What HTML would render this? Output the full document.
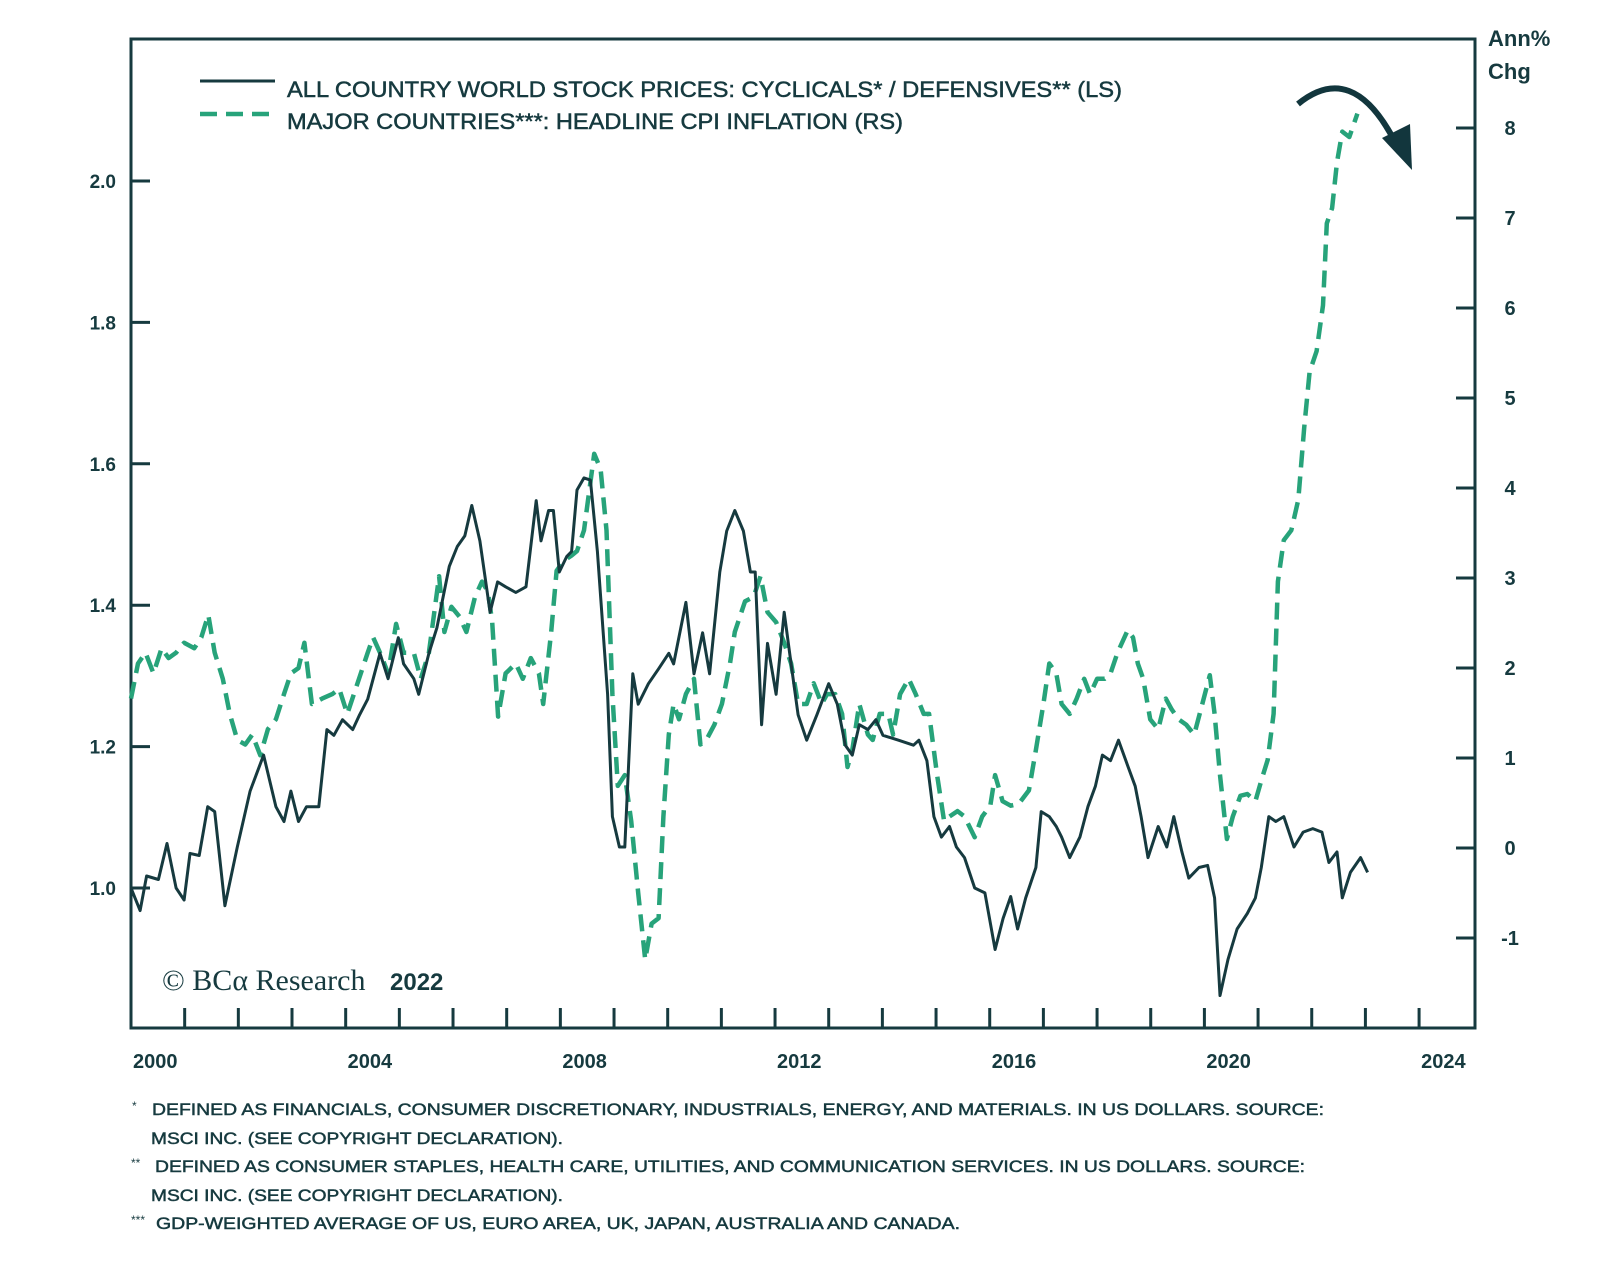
<!DOCTYPE html>
<html><head><meta charset="utf-8"><style>
html,body{margin:0;padding:0;background:#fff;}
svg{display:block;}
text{font-family:"Liberation Sans",sans-serif;fill:#163a3f;}
.semi{stroke:#163a3f;stroke-width:0.5;}
</style></head><body>
<svg id="chart" width="1600" height="1261" viewBox="0 0 1600 1261" xmlns="http://www.w3.org/2000/svg">
<rect width="1600" height="1261" fill="#fff"/>
<g id="axes"></g>
<g id="series"></g>
<g>
  <line x1="200" y1="81" x2="275" y2="81" stroke="#163a3f" stroke-width="3"/>
  <text class="semi" x="287" y="97" font-size="22" textLength="835" lengthAdjust="spacingAndGlyphs">ALL COUNTRY WORLD STOCK PRICES: CYCLICALS* / DEFENSIVES** (LS)</text>
  <line x1="200" y1="114" x2="275" y2="114" stroke="#27a37a" stroke-width="4.5" stroke-dasharray="17,9"/>
  <text class="semi" x="287" y="129" font-size="22" textLength="616" lengthAdjust="spacingAndGlyphs">MAJOR COUNTRIES***: HEADLINE CPI INFLATION (RS)</text>
</g>
<g>
  <text x="1488" y="46" font-size="22" font-weight="bold">Ann%</text>
  <text x="1488" y="79" font-size="22" font-weight="bold">Chg</text>
</g>
<g>
  <path d="M1298,104 Q1352,60 1394,140" fill="none" stroke="#12363d" stroke-width="6"/>
  <polygon points="1382,138 1410,124 1412,170" fill="#12363d"/>
</g>
<g>
  <text x="162" y="990" font-size="30" style="font-family:'Liberation Serif',serif">© BCα Research</text>
  <text x="390" y="990" font-size="24" font-weight="bold">2022</text>
</g>
<g font-size="17">
  <text x="132" y="1110" font-size="12">*</text>
  <text class="semi" x="152" y="1115" textLength="1172" lengthAdjust="spacingAndGlyphs">DEFINED AS FINANCIALS, CONSUMER DISCRETIONARY, INDUSTRIALS, ENERGY, AND MATERIALS. IN US DOLLARS. SOURCE:</text>
  <text class="semi" x="151" y="1144" textLength="412" lengthAdjust="spacingAndGlyphs">MSCI INC. (SEE COPYRIGHT DECLARATION).</text>
  <text x="131" y="1167" font-size="12">**</text>
  <text class="semi" x="155" y="1172" textLength="1150" lengthAdjust="spacingAndGlyphs">DEFINED AS CONSUMER STAPLES, HEALTH CARE, UTILITIES, AND COMMUNICATION SERVICES. IN US DOLLARS. SOURCE:</text>
  <text class="semi" x="151" y="1201" textLength="412" lengthAdjust="spacingAndGlyphs">MSCI INC. (SEE COPYRIGHT DECLARATION).</text>
  <text x="131" y="1224" font-size="12">***</text>
  <text class="semi" x="156" y="1229" textLength="804" lengthAdjust="spacingAndGlyphs">GDP-WEIGHTED AVERAGE OF US, EURO AREA, UK, JAPAN, AUSTRALIA AND CANADA.</text>
</g>
</svg>
<script>
const leftTicks = [1.0, 1.2, 1.4, 1.6, 1.8, 2.0];
const leftTickLabels = ["1.0", "1.2", "1.4", "1.6", "1.8", "2.0"];
const rightTicks = [-1, 0, 1, 2, 3, 4, 5, 6, 7, 8];
const rightTickLabels = ["-1", "0", "1", "2", "3", "4", "5", "6", "7", "8"];
const xTickYears = [2001,2002,2003,2004,2005,2006,2007,2008,2009,2010,2011,2012,2013,2014,2015,2016,2017,2018,2019,2020,2021,2022,2023,2024];
const xLabelYears = [2000, 2004, 2008, 2012, 2016, 2020, 2024];
const xLabels = ["2000", "2004", "2008", "2012", "2016", "2020", "2024"];

const stockDates = [2000.00,2000.17,2000.29,2000.51,2000.67,2000.84,2000.99,2001.10,2001.27,2001.43,2001.56,2001.75,2001.98,2002.22,2002.47,2002.70,2002.85,2002.98,2003.12,2003.27,2003.50,2003.65,2003.78,2003.94,2004.13,2004.26,2004.41,2004.64,2004.79,2004.98,2005.08,2005.27,2005.36,2005.55,2005.70,2005.93,2006.08,2006.22,2006.35,2006.50,2006.69,2006.83,2006.98,2007.17,2007.36,2007.55,2007.64,2007.78,2007.87,2007.98,2008.12,2008.21,2008.31,2008.44,2008.56,2008.69,2008.88,2008.97,2009.10,2009.20,2009.35,2009.45,2009.64,2009.83,2010.02,2010.11,2010.34,2010.49,2010.65,2010.78,2010.97,2011.10,2011.25,2011.41,2011.54,2011.63,2011.75,2011.86,2012.02,2012.17,2012.30,2012.43,2012.59,2012.78,2013.00,2013.16,2013.31,2013.44,2013.57,2013.73,2013.88,2014.01,2014.30,2014.58,2014.68,2014.83,2014.96,2015.10,2015.25,2015.38,2015.53,2015.72,2015.91,2016.10,2016.25,2016.39,2016.52,2016.67,2016.86,2016.96,2017.11,2017.24,2017.34,2017.49,2017.68,2017.83,2017.97,2018.10,2018.25,2018.40,2018.57,2018.71,2018.82,2018.95,2019.14,2019.30,2019.43,2019.58,2019.71,2019.90,2020.06,2020.19,2020.29,2020.44,2020.61,2020.80,2020.95,2021.06,2021.20,2021.33,2021.48,2021.67,2021.84,2022.02,2022.19,2022.32,2022.47,2022.57,2022.72,2022.91,2023.04];
const stockValues = [1.00,0.968,1.017,1.012,1.063,1.00,0.983,1.049,1.046,1.115,1.108,0.975,1.058,1.137,1.188,1.115,1.094,1.137,1.094,1.115,1.115,1.224,1.216,1.238,1.224,1.245,1.267,1.332,1.296,1.354,1.317,1.296,1.274,1.332,1.368,1.455,1.483,1.498,1.541,1.491,1.390,1.433,1.426,1.418,1.426,1.548,1.491,1.534,1.534,1.447,1.469,1.476,1.563,1.580,1.577,1.476,1.274,1.101,1.058,1.058,1.303,1.260,1.289,1.310,1.332,1.317,1.404,1.303,1.361,1.303,1.447,1.505,1.534,1.505,1.447,1.447,1.231,1.346,1.274,1.390,1.317,1.245,1.209,1.245,1.289,1.260,1.202,1.188,1.231,1.224,1.238,1.216,1.209,1.202,1.209,1.180,1.101,1.072,1.087,1.058,1.043,1.000,0.993,0.913,0.957,0.988,0.942,0.986,1.029,1.108,1.101,1.087,1.072,1.043,1.072,1.115,1.144,1.188,1.180,1.209,1.173,1.144,1.101,1.043,1.087,1.058,1.101,1.051,1.014,1.029,1.032,0.986,0.848,0.899,0.942,0.964,0.986,1.029,1.101,1.094,1.101,1.058,1.079,1.084,1.079,1.036,1.051,0.986,1.022,1.043,1.022];

const cpiDates = [2000.00,2000.13,2000.27,2000.42,2000.57,2000.70,2000.84,2000.99,2001.18,2001.31,2001.44,2001.56,2001.71,2001.84,2001.98,2002.13,2002.26,2002.41,2002.55,2002.70,2002.85,2002.98,2003.12,2003.23,2003.37,2003.56,2003.75,2003.88,2004.03,2004.22,2004.41,2004.51,2004.64,2004.79,2004.94,2005.08,2005.27,2005.40,2005.55,2005.74,2005.84,2005.97,2006.12,2006.25,2006.41,2006.54,2006.65,2006.73,2006.84,2006.98,2007.17,2007.30,2007.45,2007.60,2007.68,2007.83,2007.93,2008.06,2008.21,2008.31,2008.44,2008.63,2008.75,2008.86,2008.97,2009.07,2009.20,2009.32,2009.45,2009.58,2009.70,2009.83,2009.92,2010.02,2010.11,2010.21,2010.34,2010.49,2010.61,2010.72,2010.87,2011.01,2011.16,2011.25,2011.44,2011.60,2011.73,2011.86,2012.02,2012.17,2012.30,2012.43,2012.59,2012.72,2012.87,2012.97,2013.12,2013.25,2013.35,2013.44,2013.57,2013.73,2013.82,2013.95,2014.11,2014.20,2014.33,2014.49,2014.62,2014.77,2014.87,2015.02,2015.15,2015.25,2015.40,2015.53,2015.72,2015.86,2016.01,2016.10,2016.24,2016.39,2016.54,2016.73,2016.86,2017.00,2017.11,2017.24,2017.34,2017.49,2017.62,2017.76,2017.87,2018.00,2018.14,2018.25,2018.38,2018.57,2018.67,2018.76,2018.86,2018.99,2019.14,2019.28,2019.39,2019.52,2019.66,2019.81,2019.96,2020.10,2020.19,2020.29,2020.42,2020.53,2020.67,2020.80,2020.95,2021.06,2021.18,2021.29,2021.37,2021.48,2021.62,2021.75,2021.86,2021.96,2022.09,2022.21,2022.28,2022.38,2022.47,2022.57,2022.70,2022.85];
const cpiValues = [1.66,2.05,2.17,1.94,2.22,2.11,2.17,2.28,2.22,2.34,2.59,2.17,1.88,1.49,1.20,1.15,1.26,1.03,1.32,1.43,1.71,1.94,2.00,2.28,1.60,1.66,1.71,1.77,1.49,1.83,2.17,2.34,2.17,1.94,2.49,2.17,2.17,1.88,2.17,3.02,2.40,2.68,2.57,2.40,2.79,2.96,2.85,2.51,1.46,1.94,2.05,1.88,2.11,1.94,1.60,2.40,3.08,3.19,3.25,3.30,3.53,4.38,4.21,3.53,1.71,0.69,0.81,0.30,-0.50,-1.24,-0.84,-0.78,0.35,1.26,1.60,1.43,1.71,1.88,1.15,1.20,1.37,1.60,2.05,2.40,2.74,2.79,3.02,2.62,2.51,2.28,2.05,1.60,1.60,1.83,1.60,1.71,1.71,1.49,0.90,1.09,1.60,1.26,1.20,1.49,1.49,1.26,1.71,1.88,1.71,1.49,1.49,0.81,0.30,0.35,0.41,0.35,0.12,0.35,0.47,0.81,0.52,0.47,0.49,0.64,1.09,1.60,2.05,1.94,1.60,1.49,1.66,1.88,1.71,1.88,1.88,1.94,2.17,2.42,2.34,2.05,1.88,1.43,1.32,1.66,1.54,1.43,1.37,1.26,1.60,1.92,1.49,0.81,0.10,0.35,0.58,0.60,0.52,0.75,0.98,1.49,2.96,3.42,3.53,3.87,4.67,5.29,5.52,6.03,6.94,7.11,7.62,7.96,7.90,8.16];

const PL = 131, PR = 1475, PT = 39, PB = 1028;
const NS = "http://www.w3.org/2000/svg";
const DARK = "#163a3f", GREEN = "#27a37a";
function xScale(yr){ return PL + (yr - 2000) * 53.67; }
function yLeft(v){ return 888 - (v - 1) * 707; }
function yRight(v){ return 848 - v * 90.0; }
function mk(tag, attrs, parent){
  const e = document.createElementNS(NS, tag);
  for (const k in attrs) e.setAttribute(k, attrs[k]);
  parent.appendChild(e);
  return e;
}
const axes = document.getElementById('axes');
const frame = mk('rect', {x:PL, y:PT, width:PR-PL, height:PB-PT, fill:'none', stroke:DARK, 'stroke-width':3}, axes);



leftTicks.forEach((v, i) => {
  const y = yLeft(v);
  const t = mk('line', {x1:PL, x2:PL+19, y1:y, y2:y, stroke:DARK, 'stroke-width':3}, axes);
  
  
  const l = mk('text', {x:116, y:y+7, 'font-size':19, 'font-weight':'bold', 'text-anchor':'end'}, axes);
  l.textContent = leftTickLabels[i];
  
  
});
rightTicks.forEach((v, i) => {
  const y = yRight(v);
  const t = mk('line', {x1:PR-19, x2:PR, y1:y, y2:y, stroke:DARK, 'stroke-width':3}, axes);
  
  
  const l = mk('text', {x:1510, y:y+7, 'font-size':20, 'font-weight':'bold', 'text-anchor':'middle'}, axes);
  l.textContent = rightTickLabels[i];
  
  
});
xTickYears.forEach(yr => {
  const x = xScale(yr);
  const t = mk('line', {x1:x, x2:x, y1:PB-20, y2:PB, stroke:DARK, 'stroke-width':3}, axes);
  
  
});
xLabelYears.forEach((yr, i) => {
  const l = mk('text', {x:xScale(yr)+2, y:1068, 'font-size':20, 'font-weight':'bold'}, axes);
  l.textContent = xLabels[i];
  
  
});

const series = document.getElementById('series');
let dC = '';
cpiDates.forEach((d, i) => { dC += (i ? 'L' : 'M') + xScale(d).toFixed(1) + ',' + yRight(cpiValues[i]).toFixed(1); });
const cpi = mk('path', {d:dC, fill:'none', stroke:GREEN, 'stroke-width':4.5, 'stroke-dasharray':'17,9', 'stroke-linejoin':'round'}, series);


let dS = '';
stockDates.forEach((d, i) => { dS += (i ? 'L' : 'M') + xScale(d).toFixed(1) + ',' + yLeft(stockValues[i]).toFixed(1); });
const st = mk('path', {d:dS, fill:'none', stroke:DARK, 'stroke-width':3, 'stroke-linejoin':'round'}, series);


</script>
</body></html>
